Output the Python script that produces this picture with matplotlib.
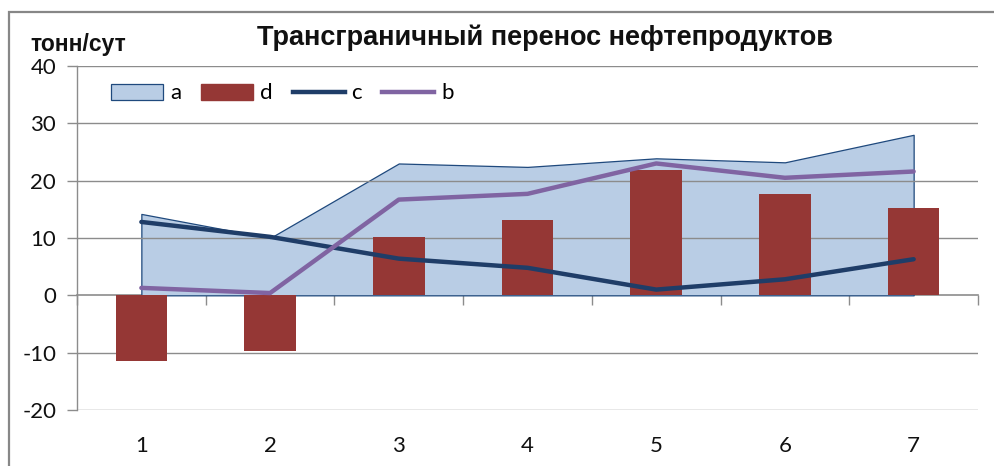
import matplotlib
matplotlib.use("Agg")
import matplotlib.pyplot as plt
from matplotlib.patches import Patch, Rectangle
from matplotlib.lines import Line2D

# ---- data -------------------------------------------------------------------
categories = [1, 2, 3, 4, 5, 6, 7]
a_vals = [14.2, 10.0, 23.0, 22.4, 23.9, 23.2, 28.0]
d_vals = [-11.5, -9.7, 10.1, 13.1, 21.8, 17.6, 15.3]
c_vals = [12.8, 10.2, 6.4, 4.8, 1.0, 2.8, 6.3]
b_vals = [1.3, 0.4, 16.7, 17.7, 23.0, 20.5, 21.6]
y_ticks = [-20, -10, 0, 10, 20, 30, 40]

TITLE = "Трансграничный перенос нефтепродуктов"
UNITS = "тонн/сут"

# ---- colours ----------------------------------------------------------------
A_FILL, A_EDGE = "#b9cde5", "#1f497d"
D_COL = "#953735"
C_COL = "#1f3d68"
B_COL = "#8064a2"
GRID = "#8c8c8c"

W, H = 995, 466
fig = plt.figure(figsize=(W / 100, H / 100), dpi=100)

# outer chart frame (cut off at right / bottom like the screenshot)
fig.patches.append(Rectangle((9 / W, -0.1), 1.2, 1.1 - 12 / H,
                             transform=fig.transFigure, fill=False,
                             edgecolor="#878787", linewidth=1.6))

L, R, T, B = 77, 978, 66, 410
ax = fig.add_axes([L / W, 1 - B / H, (R - L) / W, (B - T) / H])
ax.set_xlim(0.5, 7.5)
ax.set_ylim(-20, 40)

for s in ("top", "right", "bottom"):
    ax.spines[s].set_visible(False)
ax.spines["left"].set_color(GRID)
ax.spines["left"].set_linewidth(1.0)

# gridlines between area and bars
for yv in y_ticks:
    if yv != 0:
        ax.axhline(yv, color=GRID, lw=1.0, zorder=1.5)

ax.fill_between(categories, 0, a_vals, facecolor=A_FILL, edgecolor=A_EDGE,
                linewidth=0.9, zorder=1)
ax.bar(categories, d_vals, width=0.4, color=D_COL, zorder=2)
ax.plot(categories, c_vals, color=C_COL, lw=3.2, solid_capstyle="round",
        solid_joinstyle="round", zorder=3)
ax.plot(categories, b_vals, color=B_COL, lw=3.2, solid_capstyle="round",
        solid_joinstyle="round", zorder=3)

tick_font = dict(family="Lato", size=16)
ax.set_yticks(y_ticks)
ax.set_yticklabels([str(v) for v in y_ticks], **tick_font, color="#111")
ax.tick_params(axis="y", direction="out", length=7, color=GRID, width=1, pad=8)

ax.set_xticks(categories)
ax.set_xticklabels([str(v) for v in categories], **tick_font, color="#111")
ax.tick_params(axis="x", length=0, pad=19)

# category axis drawn at y = 0 with ticks between categories
sec = ax.secondary_xaxis(1 / 3)
sec.spines["bottom"].set_color(GRID)
sec.spines["bottom"].set_linewidth(1.2)
sec.set_xticks([k + 0.5 for k in range(0, 8)])
sec.set_xticklabels([])
sec.tick_params(direction="out", length=7, color=GRID, width=1)

# legend
handles = [
    Patch(facecolor=A_FILL, edgecolor=A_EDGE, linewidth=0.9, label="a"),
    Patch(facecolor=D_COL, edgecolor=D_COL, label="d"),
    Line2D([0], [0], color=C_COL, lw=3.2, label="c"),
    Line2D([0], [0], color=B_COL, lw=3.2, label="b"),
]
ax.legend(handles=handles, loc="upper left", bbox_to_anchor=(0.028, 0.975),
          ncol=4, frameon=False, prop=dict(family="Lato", size=16),
          handlelength=2.35, handleheight=0.75, handletextpad=0.3,
          columnspacing=0.9, borderaxespad=0)

fig.text(545 / W, 1 - 38 / H, TITLE, ha="center", va="center",
         family="Liberation Sans", fontweight="bold", fontsize=19.5, color="#111")
fig.text(30 / W, 1 - 45 / H, UNITS, ha="left", va="center",
         family="Liberation Sans", fontweight="bold", fontsize=16.5, color="#111")

fig.savefig("out.png", dpi=100)
